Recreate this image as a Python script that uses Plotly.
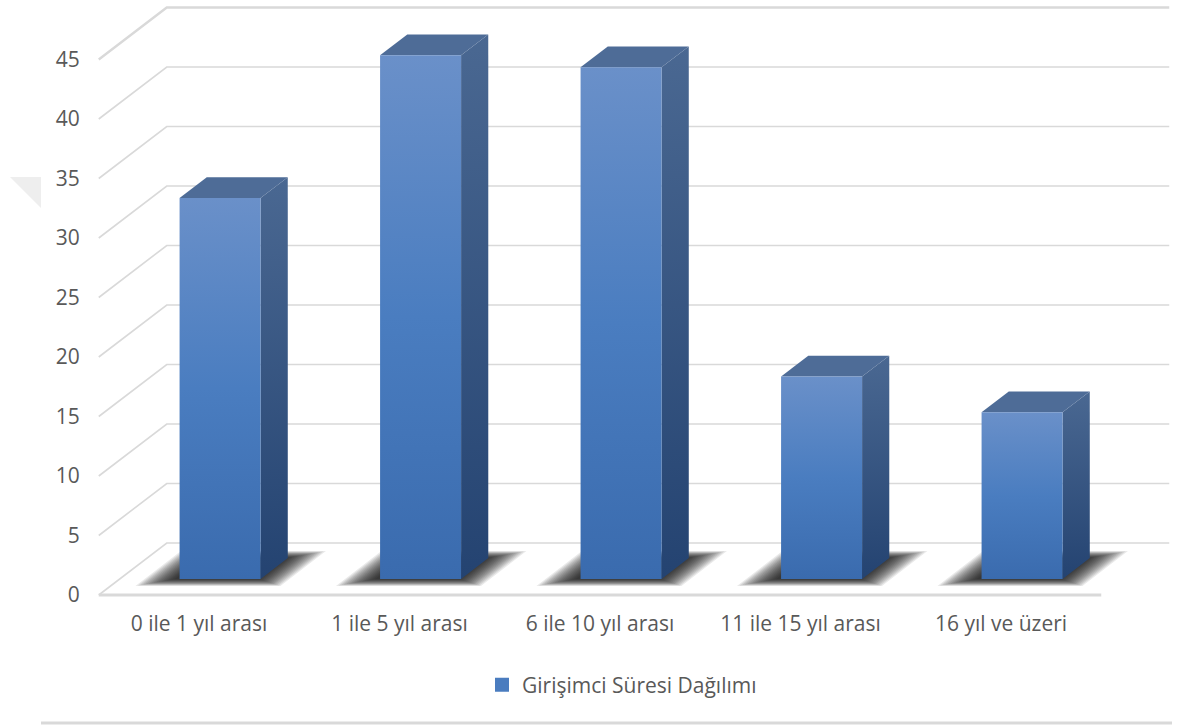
import plotly.graph_objects as go

# ---- data ----
categories = ["0 ile 1 yıl arası", "1 ile 5 yıl arası", "6 ile 10 yıl arası",
              "11 ile 15 yıl arası", "16 yıl ve üzeri"]
values = [32, 44, 43, 17, 14]
y_ticks = [0, 5, 10, 15, 20, 25, 30, 35, 40, 45]
series_name = "Girişimci Süresi Dağılımı"

# ---- geometry of the oblique (pseudo-3D) projection ----
W, H = 1184, 725
CAT_PX = 200.5          # pixels per category step
UNIT_PX = 11.9          # pixels per value unit
X0_PX = 199             # pixel x of category 0 on the front edge
Y0_PX = 595             # pixel y of value 0 on the front edge
DEPTH_PX = (68, 52)     # full floor depth vector (right, up) in pixels
DXU = DEPTH_PX[0] / CAT_PX
DYU = DEPTH_PX[1] / UNIT_PX
BAR_D0, BAR_D1 = 0.31, 0.71   # depth span occupied by the bars
BAR_HALF = 40.5 / CAT_PX      # half bar width in category units
X_LO, X_HI = -0.5, len(categories) - 0.5

FONT = "Open Sans, sans-serif"
FSIZE = 21
TXT = "#595959"
GRID = "#d9d9d9"


def proj(u, v, d):
    """Point at category position u, value v and depth d (0 front .. 1 back)."""
    return u + d * DXU, v + d * DYU


def poly(points):
    xs = [p[0] for p in points] + [points[0][0]]
    ys = [p[1] for p in points] + [points[0][1]]
    return xs, ys


fig = go.Figure()

# ---- walls: gridlines run from the front edge, up the floor diagonal, along the back wall ----
gx, gy = [], []
for t in y_ticks[:-1]:
    for p in (proj(X_LO, t, 0), proj(X_LO, t, 1), proj(X_HI, t, 1)):
        gx.append(p[0]); gy.append(p[1])
    gx.append(None); gy.append(None)
fig.add_trace(go.Scatter(x=gx, y=gy, mode="lines", line=dict(color=GRID, width=1.6),
                         hoverinfo="skip", showlegend=False))
top = y_ticks[-1]
tx, ty = zip(proj(X_LO, top, 0), proj(X_LO, top, 1), proj(X_HI, top, 1))
fig.add_trace(go.Scatter(x=list(tx), y=list(ty), mode="lines", line=dict(color=GRID, width=2.4),
                         hoverinfo="skip", showlegend=False))
# front edge of the floor (category axis line)
fig.add_trace(go.Scatter(x=[X_LO, X_HI], y=[0, 0], mode="lines", line=dict(color=GRID, width=2.8),
                         hoverinfo="skip", showlegend=False))

# ---- soft floor shadows under each bar (stacked translucent layers) ----
n_layers = 16
for i, v in enumerate(values):
    for k in range(n_layers):
        ex = (32 - 2 * k) / CAT_PX            # horizontal spread
        ed = (7.0 - 0.45 * k) / DEPTH_PX[1]   # depth spread
        sh = -3 / CAT_PX
        d0, d1 = BAR_D0 - ed, BAR_D1 + ed
        pts = [proj(i - BAR_HALF - ex + sh, 0, d0), proj(i + BAR_HALF + ex + sh, 0, d0),
               proj(i + BAR_HALF + ex + sh, 0, d1), proj(i - BAR_HALF - ex + sh, 0, d1)]
        xs, ys = poly(pts)
        fig.add_trace(go.Scatter(x=xs, y=ys, mode="lines", fill="toself",
                                 fillcolor="rgba(0,0,0,0.085)", line=dict(width=0),
                                 hoverinfo="skip", showlegend=False))

# ---- 3D bars: side face, top face, front face ----
for i, v in enumerate(values):
    l, r = i - BAR_HALF, i + BAR_HALF
    side = [proj(r, 0, BAR_D0), proj(r, 0, BAR_D1), proj(r, v, BAR_D1), proj(r, v, BAR_D0)]
    xs, ys = poly(side)
    fig.add_trace(go.Scatter(x=xs, y=ys, mode="lines", fill="toself",
                             fillgradient=dict(type="vertical",
                                               colorscale=[[0, "#244371"], [1, "#4a6892"]]),
                             line=dict(width=0), hoverinfo="skip", showlegend=False))
    topf = [proj(l, v, BAR_D0), proj(r, v, BAR_D0), proj(r, v, BAR_D1), proj(l, v, BAR_D1)]
    xs, ys = poly(topf)
    fig.add_trace(go.Scatter(x=xs, y=ys, mode="lines", fill="toself", fillcolor="#4e6c97",
                             line=dict(width=0), hoverinfo="skip", showlegend=False))
    front = [proj(l, 0, BAR_D0), proj(r, 0, BAR_D0), proj(r, v, BAR_D0), proj(l, v, BAR_D0)]
    xs, ys = poly(front)
    fig.add_trace(go.Scatter(x=xs, y=ys, mode="lines", fill="toself",
                             fillgradient=dict(type="vertical",
                                               colorscale=[[0, "#3a6bae"], [0.5, "#4a7dc0"],
                                                           [1, "#6a90c9"]]),
                             line=dict(width=0), name=categories[i],
                             hovertemplate=f"{categories[i]}: {v}<extra></extra>",
                             showlegend=False))

# legend entry for the series
fig.add_trace(go.Scatter(x=[None], y=[None], mode="markers", name=series_name,
                         marker=dict(symbol="square", size=14, color="#4a7cbf"),
                         showlegend=True))

fig.update_layout(
    width=W, height=H,
    margin=dict(l=0, r=0, t=0, b=0),
    paper_bgcolor="white", plot_bgcolor="white",
    font=dict(family=FONT, size=FSIZE, color=TXT),
    xaxis=dict(range=[-X0_PX / CAT_PX, (W - X0_PX) / CAT_PX], domain=[0, 1],
               anchor="free", position=(H - Y0_PX) / H,
               tickmode="array", tickvals=list(range(len(categories))), ticktext=categories,
               showgrid=False, zeroline=False, showline=False, ticks="",
               ticklabelstandoff=14, tickfont=dict(family=FONT, size=FSIZE, color=TXT),
               fixedrange=True),
    yaxis=dict(range=[(Y0_PX - H) / UNIT_PX, Y0_PX / UNIT_PX], domain=[0, 1],
               anchor="free", position=(X0_PX + X_LO * CAT_PX) / W,
               tickmode="array", tickvals=y_ticks,
               showgrid=False, zeroline=False, showline=False, ticks="",
               ticklabelstandoff=19, tickfont=dict(family=FONT, size=FSIZE, color=TXT),
               fixedrange=True),
    showlegend=True,
    legend=dict(orientation="h", x=482 / W, xanchor="left", y=(H - 685) / H, yanchor="middle",
                font=dict(family=FONT, size=FSIZE, color=TXT), bgcolor="rgba(0,0,0,0)"),
    shapes=[
        # chart frame bottom border
        dict(type="line", xref="paper", yref="paper", x0=41 / W, x1=1172 / W,
             y0=(H - 723) / H, y1=(H - 723) / H, line=dict(color=GRID, width=3)),
        # faint wedge at the left edge
        dict(type="path", xref="paper", yref="paper",
             path=f"M {10 / W} {1 - 177 / H} L {41 / W} {1 - 177 / H} L {41 / W} {1 - 208 / H} Z",
             fillcolor="#eeeeee", line=dict(width=0)),
    ],
)

fig.write_html("out.html")
